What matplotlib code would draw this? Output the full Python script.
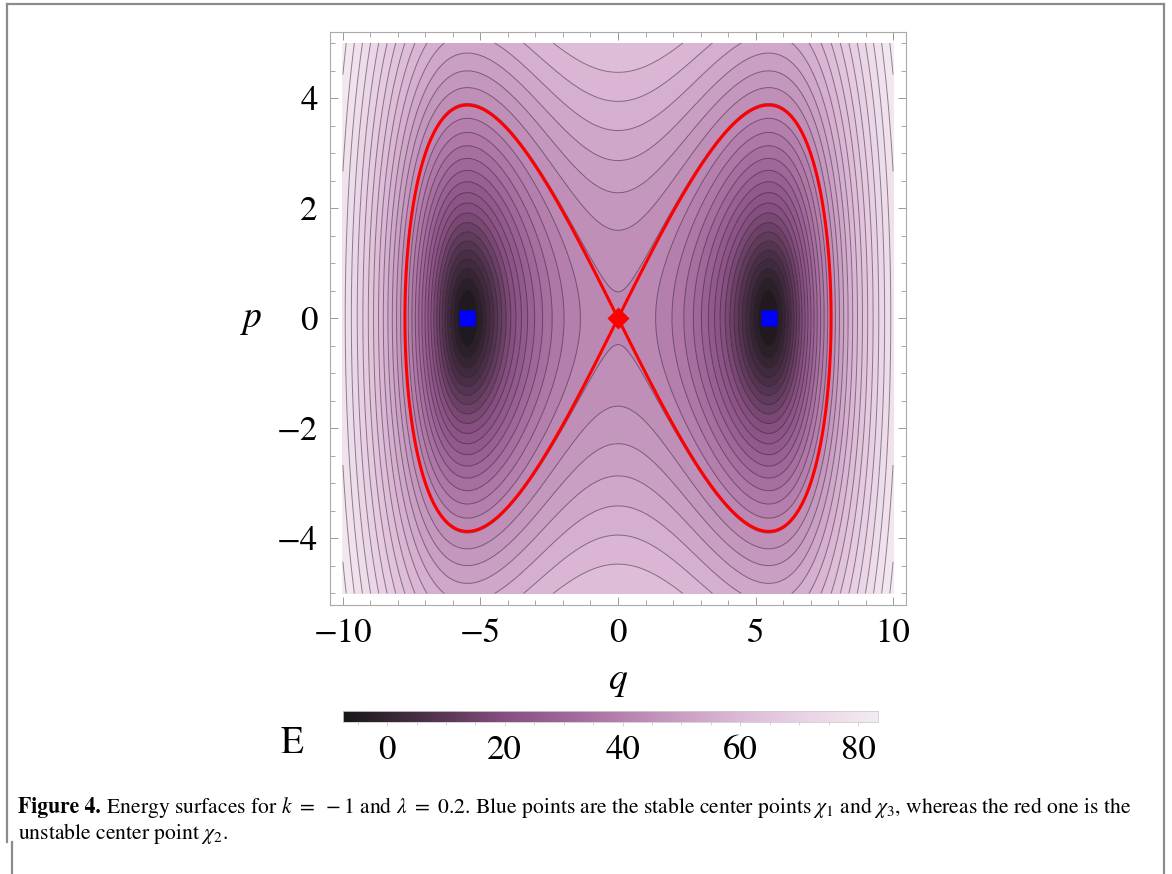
import numpy as np
import matplotlib
matplotlib.use("Agg")
import matplotlib.pyplot as plt
from matplotlib.colors import LinearSegmentedColormap
from matplotlib.lines import Line2D
from matplotlib.ticker import MultipleLocator

plt.rcParams['font.family'] = ['STIXGeneral', 'DejaVu Serif']
plt.rcParams['mathtext.fontset'] = 'stix'

# model parameters (caption)
k = -1.0
lam = 0.2

q_range = (-10.0, 10.0)
p_range = (-5.0, 5.0)

# contour levels evenly spaced in log(E + shift)
level_shift = 8.3
log_start = 2.130
log_step = 0.1293

# legend
bar_range = (-7.5, 83.4)
bar_ticks = [0, 20, 40, 60, 80]
q_ticks = [-10, -5, 0, 5, 10]
p_ticks = [-4, -2, 0, 2, 4]

# fixed points
q_stable = np.sqrt(-6 * k / lam)
stable_pts = [-q_stable, q_stable]
unstable_pts = [0.0]

# plum-like colour scale
plum_pos = [0.0, 0.10, 0.20, 0.30, 0.42, 0.52, 0.63, 0.74, 0.86, 1.0]
plum_hex = ['#1a171a', '#3b2838', '#5e3a5a', '#864f80', '#a0679a',
            '#b681ae', '#c99ec3', '#dcb9d6', '#e9d2e5', '#f4ebf2']

W, H = 1172, 874


def energy(q, p):
    return p ** 2 / 2 + k * q ** 2 / 2 + lam * q ** 4 / 24


def px_to_fig(x, y):
    return x / W, 1 - y / H


cmap = LinearSegmentedColormap.from_list('plum', list(zip(plum_pos, plum_hex)))

q = np.linspace(q_range[0], q_range[1], 801)
p = np.linspace(p_range[0], p_range[1], 501)
Q, P = np.meshgrid(q, p)
E = energy(Q, P)

n_lo = int(np.ceil((np.log(E.min() + level_shift) - log_start) / log_step))
n_hi = int(np.floor((np.log(E.max() + level_shift) - log_start) / log_step))
levels = [np.exp(log_start + n * log_step) - level_shift for n in range(n_lo, n_hi + 1)]
bounds = [E.min() - 1.0] + levels + [E.max() + 1.0]

# band colours scaled over the plotted range
t_min = np.log(E.min() + level_shift)
t_max = np.log(E.max() + level_shift)
band_colors = []
for lo, hi in zip(bounds[:-1], bounds[1:]):
    t = 0.5 * (np.log(max(lo, E.min()) + level_shift) + np.log(min(hi, E.max()) + level_shift))
    band_colors.append(cmap(np.clip((t - t_min) / (t_max - t_min), 0, 1)))

fig = plt.figure(figsize=(W / 100, H / 100), dpi=100)

# main panel
x0, y0 = px_to_fig(330, 605)
x1, y1 = px_to_fig(906, 32)
ax = fig.add_axes([x0, y0, x1 - x0, y1 - y0])
ax.contourf(Q, P, E, levels=bounds, colors=band_colors)
ax.contour(Q, P, E, levels=levels, colors='#2a1a28', linewidths=0.7, alpha=0.5,
           linestyles='solid')
ax.contour(Q, P, E, levels=[0.0], colors='#ff0000', linewidths=2.2, linestyles='solid')
ax.plot(stable_pts, [0, 0], 's', color='#0000ff', ms=11.5, mec='none')
ax.plot(unstable_pts, [0], 'D', color='#ff0000', ms=11, mec='none')

ax.set_xlim(-10.47, 10.47)
ax.set_ylim(-5.21, 5.2)
ax.set_xticks(q_ticks)
ax.set_yticks(p_ticks)
ax.xaxis.set_minor_locator(MultipleLocator(1))
ax.yaxis.set_minor_locator(MultipleLocator(0.5))
ax.tick_params(which='both', direction='in', top=True, right=True, color='#999999')
ax.tick_params(which='major', length=6, width=0.7, labelsize=25, pad=9)
ax.tick_params(which='minor', length=3.5, width=0.6)
for s in ax.spines.values():
    s.set_color('#aaaaaa')
    s.set_linewidth(0.8)

fig.text(*px_to_fig(252, 318), 'p', fontsize=27, style='italic', ha='center', va='center')
fig.text(*px_to_fig(617, 680), 'q', fontsize=27, style='italic', ha='center', va='center')

# legend bar
bx0, by0 = px_to_fig(343, 722)
bx1, by1 = px_to_fig(878, 711)
cax = fig.add_axes([bx0, by0, bx1 - bx0, by1 - by0])
grad = np.linspace(bar_range[0], bar_range[1], 600)[None, :]
cax.imshow(grad, extent=[bar_range[0], bar_range[1], 0, 1], aspect='auto', cmap=cmap,
           vmin=bar_range[0], vmax=bar_range[1])
cax.set_xlim(bar_range)
cax.set_yticks([])
cax.set_xticks(bar_ticks)
cax.xaxis.set_minor_locator(MultipleLocator(5))
cax.tick_params(which='both', direction='out', color='#cccccc', width=0.6)
cax.tick_params(which='major', length=3, labelsize=25, pad=6)
cax.tick_params(which='minor', length=2)
for s in cax.spines.values():
    s.set_color('#cccccc')
    s.set_linewidth(0.6)
fig.text(*px_to_fig(292, 744), 'E', fontsize=27, ha='center', va='center')

# caption
cap_size = 15.6
bold = fig.text(*px_to_fig(18, 807), 'Figure 4.', fontsize=cap_size, weight='bold', va='center')
rest_txt = (r' Energy surfaces for $k\ =\ -1$ and $\lambda\ =\ 0.2$. Blue points are the stable '
            r'center points $\chi_1$ and $\chi_3$, whereas the red one is the')
fig.canvas.draw()
r = fig.canvas.get_renderer()
bb = bold.get_window_extent(r)
rest = fig.text(bb.x1 / W, 1 - 807 / H, rest_txt, fontsize=cap_size, va='center')
fig.text(*px_to_fig(18, 834), r'unstable center point $\chi_2$.', fontsize=cap_size, va='center')

# page frame
frame = dict(color='#8c8c8c', lw=1.6, transform=fig.transFigure)
fig.add_artist(Line2D([7 / W, 1164 / W], [1 - 4 / H, 1 - 4 / H], **frame))
fig.add_artist(Line2D([7 / W, 7 / W], [1 - 4 / H, 1 - 842 / H], **frame))
fig.add_artist(Line2D([1164 / W, 1164 / W], [1 - 4 / H, 0], **frame))
fig.add_artist(Line2D([12 / W, 12 / W], [1 - 842 / H, 0], **frame))

fig.savefig('out.png', dpi=100)
